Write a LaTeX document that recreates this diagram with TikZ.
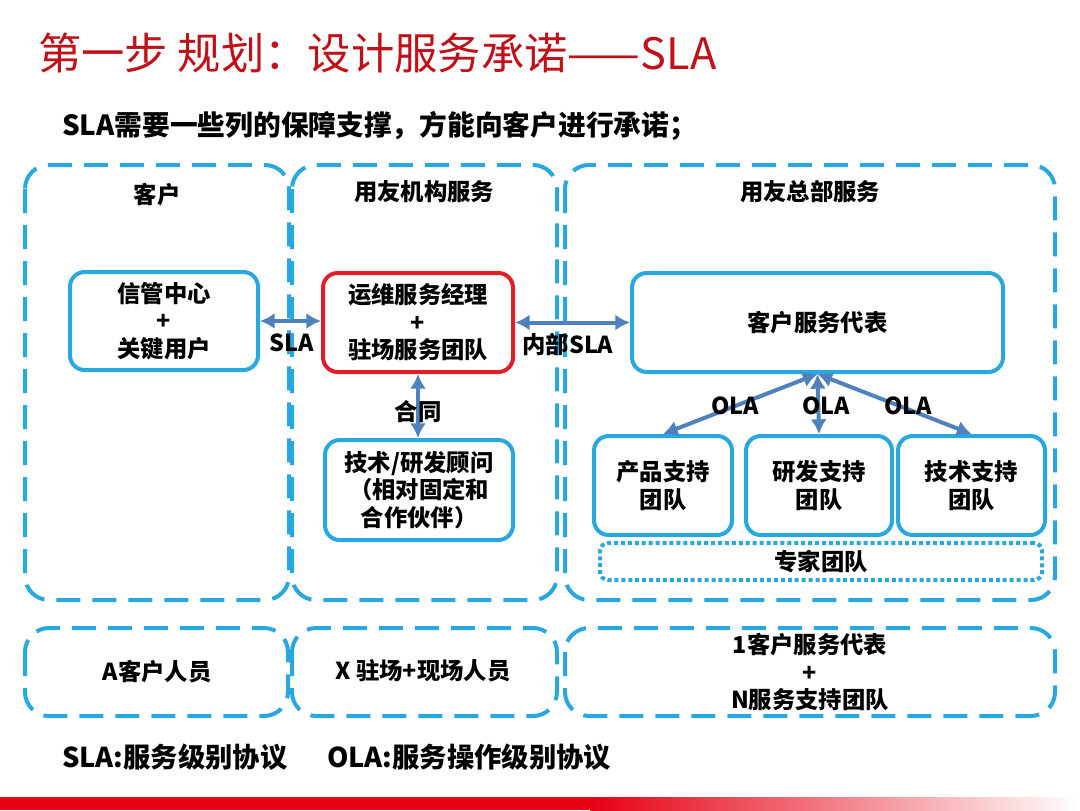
\documentclass[tikz,border=0pt]{standalone}
\usepackage{fontspec}
\setmainfont{Noto Sans CJK SC}
\usetikzlibrary{arrows.meta}
\definecolor{dblue}{RGB}{41,168,224}
\definecolor{ablue}{RGB}{79,129,189}
\definecolor{tred}{RGB}{192,16,24}
\definecolor{bred}{RGB}{230,0,18}
\definecolor{rbox}{RGB}{225,30,40}
\newcommand\bfnt{\fontsize{17.5}{20.6}\selectfont\bfseries}
\begin{document}
\begin{tikzpicture}[x=0.75pt,y=-0.75pt,
  sz/.style 2 args={minimum width=0.75pt*#1, minimum height=0.75pt*#2},
  bigbox/.style={draw=dblue, line width=3pt, dash pattern=on 18pt off 9pt, rounded corners=18pt},
  innerbox/.style={draw=dblue, line width=3pt, rounded corners=11pt, fill=white, inner sep=0pt, align=center, font=\bfnt},
  redbox/.style={innerbox, draw=rbox},
  dotbox/.style={draw=dblue, line width=3pt, dash pattern=on 3pt off 2.2pt, rounded corners=6pt, inner sep=0pt, font=\bfnt},
  conn/.style={ablue, line width=3pt, {Latex[length=11pt,width=12pt]}-{Latex[length=11pt,width=12pt]}},
  lbl/.style={font=\bfnt, text=black, inner sep=1pt, align=center}]
\useasboundingbox (0,0) rectangle (1080,810);
\fill[white] (0,0) rectangle (1080,810);
% title
\node[anchor=west, inner sep=0pt, text=tred, font=\fontsize{32.5}{38}\selectfont] (title) at (38,53) {第一步 规划：设计服务承诺——SLA};
\node[anchor=west, inner sep=0pt, font=\fontsize{20.8}{25}\selectfont\bfseries] (sub) at (62,126) {SLA需要一些列的保障支撑，方能向客户进行承诺；};
% big dashed boxes
\draw[bigbox] (25,165) rectangle (289,600);
\draw[bigbox] (292,165) rectangle (557,600);
\draw[bigbox] (565,165) rectangle (1055,600);
\draw[bigbox] (25,628) rectangle (288,716);
\draw[bigbox] (292,628) rectangle (557,716);
\draw[bigbox] (565,628) rectangle (1055,716);
% headers
\node[lbl] (h1) at (157,195) {客户};
\node[lbl] (h2) at (424,192) {用友机构服务};
\node[lbl] (h3) at (810,192) {用友总部服务};
% inner boxes
\node[innerbox, sz={188}{98}] (xg) at (164,321) {信管中心\\+\\关键用户};
\node[redbox, sz={190}{99}] (red) at (418,322.5) {运维服务经理\\+\\驻场服务团队};
\node[innerbox, sz={188}{100}] (jg) at (419,490) {技术/研发顾问\\（相对固定和\\合作伙伴）};
\node[innerbox, sz={371}{99}] (kf) at (817.5,322.5) {客户服务代表};
\node[innerbox, sz={138}{99}] (cp) at (663,485.5) {产品支持\\团队};
\node[innerbox, sz={146}{99}] (yf) at (819,485.5) {研发支持\\团队};
\node[innerbox, sz={147}{99}] (js) at (971.5,485.5) {技术支持\\团队};
\node[dotbox, sz={442}{37}] (zj) at (821,561.5) {专家团队};
% connectors
\draw[conn] (xg.east) -- (xg.east -| red.west);
\draw[conn] (red.east) -- (red.east -| kf.west);
\draw[conn] (red.south) -- (red.south |- jg.north);
\draw[conn] (kf.south) -- (cp.north);
\draw[conn] (kf.south) -- (yf.north);
\draw[conn] (kf.south) -- (js.north);
% connector labels
\node[lbl] (l1) at (292,343) {SLA};
\node[lbl] (l2) at (568,345) {内部SLA};
\node[lbl] (l3) at (418,412) {合同};
\node[lbl] (o1) at (735,406) {OLA};
\node[lbl] (o2) at (826,406) {OLA};
\node[lbl] (o3) at (908,406) {OLA};
% bottom row texts
\node[lbl] (b1) at (157,672) {A客户人员};
\node[lbl] (b2) at (423,671) {X 驻场+现场人员};
\node[lbl] (b3) at (810,672) {1客户服务代表\\+\\N服务支持团队};
% footer
\node[anchor=west, inner sep=0pt, font=\fontsize{20.5}{24}\selectfont\bfseries] (f1) at (62,757) {SLA:服务级别协议};
\node[anchor=west, inner sep=0pt, font=\fontsize{20.5}{24}\selectfont\bfseries] (f2) at (327,757) {OLA:服务操作级别协议};
% bottom bar
\fill[bred] (0,797) rectangle (592,810);
\shade[left color=bred, right color=white] (590,797) rectangle (1080,810);
\end{tikzpicture}
\end{document}
